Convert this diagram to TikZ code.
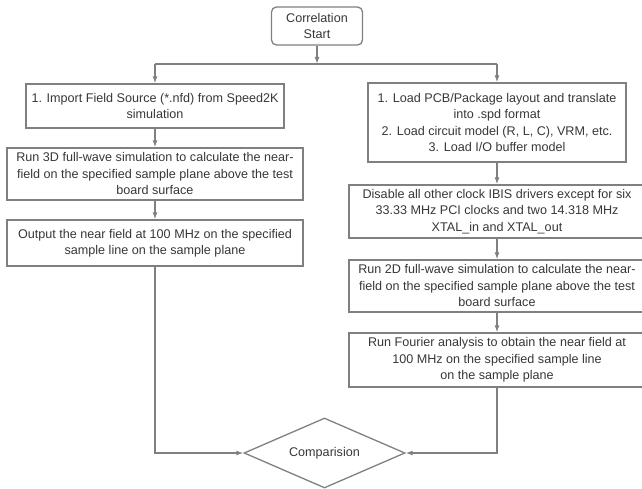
\documentclass[tikz,border=0pt]{standalone}
\usepackage{fontspec}
\setmainfont{Liberation Sans}
\usepackage{xcolor}
\definecolor{framegray}{RGB}{128,128,128}
\definecolor{textgray}{RGB}{55,55,55}
\usepackage{tikz}
\usetikzlibrary{arrows.meta}
\usetikzlibrary{shapes.geometric}
\newcommand{\widthfirst}{258pt}
\newcommand{\widthstep}{296pt}
\tikzset{
    common/.style={draw=framegray, line width=1.3pt, text=textgray, align=center, inner sep=2pt,
        font=\fontsize{12.6}{16.5}\selectfont},
    firstbox/.style={common, rectangle, minimum width=\widthfirst},
    stepbox/.style={common, rectangle, minimum width=\widthstep},
    startbox/.style={common, rounded corners=5pt, minimum width=91pt, minimum height=38pt},
    decision/.style={common, diamond, aspect=2.3, minimum width=161pt, minimum height=70pt, inner sep=0pt},
    wire/.style={draw=framegray, line width=1.3pt},
    flow/.style={wire, -{Latex[length=7pt,width=5pt]}}
}

\begin{document}
\begin{tikzpicture}[x=1pt, y=1pt]
    \useasboundingbox (0,0) rectangle (642,489);

    \node[startbox] (start) at (317,463) {Correlation\\Start};
    \coordinate (split) at (317,425);
    \coordinate (split-l) at (155,425);
    \coordinate (split-r) at (497,425);

    % left branch
    \path (155,383) node[firstbox, minimum height=44pt] (import)
            {1. Import Field Source (*.nfd) from Speed2K\\simulation}
        to ++(0,-68) node[stepbox, minimum height=52pt] (fullwave3d)
            {Run 3D full-wave simulation to calculate the near-\\field on the specified sample plane above the test\\board surface}
        to ++(0,-69) node[stepbox, minimum height=46pt] (output)
            {Output the near field at 100 MHz on the specified\\sample line on the sample plane};

    % right branch
    \path (497,366.5) node[firstbox, minimum height=79pt] (load)
            {1. Load PCB/Package layout and translate\\into .spd format\\2. Load circuit model (R, L, C), VRM, etc.\\3. Load I/O buffer model}
        to ++(0,-89) node[stepbox, minimum height=53pt] (disable)
            {Disable all other clock IBIS drivers except for six\\33.33 MHz PCI clocks and two 14.318 MHz\\XTAL\_in and XTAL\_out}
        to ++(0,-74.5) node[stepbox, minimum height=52pt] (fullwave2d)
            {Run 2D full-wave simulation to calculate the near-\\field on the specified sample plane above the test\\board surface}
        to ++(0,-74) node[stepbox, minimum height=54pt] (fourier)
            {Run Fourier analysis to obtain the near field at\\100 MHz on the specified sample line\\on the sample plane};

    \node[decision] (compare) at (324.5,36) {Comparision};

    \draw[flow] (start) -- (split);
    \draw[wire] (split-l) -- (split-r);
    \draw[flow] (split-l) -- (import);
    \draw[flow] (split-r) -- (load);

    \draw[flow] (import) -- (fullwave3d);
    \draw[flow] (fullwave3d) -- (output);

    \draw[flow] (load) -- (disable);
    \draw[flow] (disable) -- (fullwave2d);
    \draw[flow] (fullwave2d) -- (fourier);

    \draw[flow] (output) |- (compare);
    \draw[flow] (fourier) |- (compare);
\end{tikzpicture}
\end{document}
